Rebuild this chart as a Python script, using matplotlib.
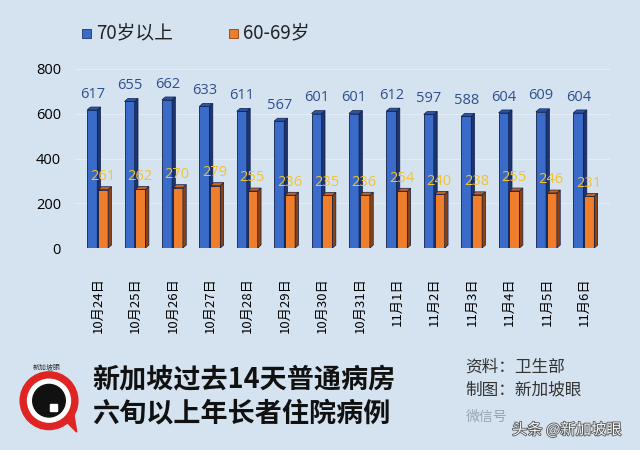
import matplotlib
matplotlib.use("Agg")
import matplotlib.pyplot as plt
import matplotlib.patches as mpatches
import matplotlib.patheffects as pe
import numpy as np

plt.rcParams['font.family'] = ['Noto Sans CJK SC', 'DejaVu Sans']

dates = ["10月24日", "10月25日", "10月26日", "10月27日", "10月28日", "10月29日", "10月30日",
         "10月31日", "11月1日", "11月2日", "11月3日", "11月4日", "11月5日", "11月6日"]
over70 = [617, 655, 662, 633, 611, 567, 601, 601, 612, 597, 588, 604, 609, 604]
age60_69 = [261, 262, 270, 279, 255, 236, 235, 236, 254, 240, 238, 255, 246, 231]

bg = '#d5e3f1'
blue, blue_dark, blue_top = '#3a6bc9', '#1c3570', '#2b55a8'
orange, orange_dark, orange_top = '#ee7d2c', '#8a4212', '#c9621c'

W, H = 640, 450
fig = plt.figure(figsize=(W / 100, H / 100), dpi=100, facecolor=bg)

ax = fig.add_axes([75 / W, 1 - 248 / H, (610 - 75) / W, (248 - 69) / H])
ax.set_facecolor(bg)

x = np.arange(len(dates))
bw = 0.27
dx, dy = 0.09, 13


def bar3d(xs, vals, color, dark, top):
    ax.bar(xs, vals, width=bw, align='edge', color=color, edgecolor='#10204a',
           linewidth=0.6, zorder=3)
    for xi, v in zip(xs, vals):
        ax.fill([xi + bw, xi + bw + dx, xi + bw + dx, xi + bw],
                [0, dy, v + dy, v], color=dark, edgecolor='#10204a',
                linewidth=0.5, zorder=3)
        ax.fill([xi, xi + dx, xi + bw + dx, xi + bw],
                [v, v + dy, v + dy, v], color=top, edgecolor='#10204a',
                linewidth=0.5, zorder=3)


bar3d(x - 0.29, over70, blue, blue_dark, blue_top)
bar3d(x + 0.0, age60_69, orange, orange_dark, orange_top)

for xi, v in zip(x, over70):
    ax.annotate(str(v), (xi - 0.15, v), xytext=(0, 6), textcoords='offset points',
                ha='center', va='bottom', fontsize=10.5, color='#2f4f8c',
                family=['Open Sans', 'DejaVu Sans'], zorder=5)
for xi, v in zip(x, age60_69):
    ax.annotate(str(v), (xi + 0.12, v), xytext=(0, 4), textcoords='offset points',
                ha='center', va='bottom', fontsize=10.5, color='#f2c230',
                family=['Open Sans', 'DejaVu Sans'], zorder=5)

ax.set_xlim(-0.615, 13.69)
ax.set_ylim(0, 800)
ax.set_yticks([0, 200, 400, 600, 800])
ax.set_yticklabels(['0', '200', '400', '600', '800'], fontsize=10.5,
                   family=['Open Sans', 'DejaVu Sans'])
ax.set_xticks(x)
ax.set_xticklabels(dates, rotation=90, fontsize=9.5, va='top', ha='center')
ax.tick_params(length=0)
ax.tick_params(axis='x', pad=21)
ax.tick_params(axis='y', pad=10)
ax.yaxis.grid(True, color='#e4edf7', linewidth=0.8, zorder=0)
ax.set_axisbelow(True)
for s in ax.spines.values():
    s.set_visible(False)

# legend
fig.patches.append(mpatches.Rectangle((82 / W, 1 - 38 / H), 9 / W, 9 / H,
                                      transform=fig.transFigure, facecolor=blue,
                                      edgecolor='#1c3570', linewidth=0.6))
fig.text(96 / W, 1 - 33 / H, "70岁以上", fontsize=13.5, va='center', color='#222222')
fig.patches.append(mpatches.Rectangle((229 / W, 1 - 38 / H), 9 / W, 9 / H,
                                      transform=fig.transFigure, facecolor=orange,
                                      edgecolor='#8a4212', linewidth=0.6))
fig.text(243 / W, 1 - 33 / H, "60-69岁", fontsize=13.5, va='center', color='#222222')

# logo
lax = fig.add_axes([12 / W, 1 - 434 / H, 74 / W, 74 / H])
lax.set_xlim(-1, 1)
lax.set_ylim(-1, 1)
lax.set_aspect('equal')
lax.axis('off')
lax.add_patch(mpatches.Polygon([[0.35, -0.55], [0.75, -0.95], [0.65, -0.35]],
                               color='#e02424'))
lax.add_patch(mpatches.Circle((0, -0.1), 0.78, color='#e02424'))
lax.add_patch(mpatches.Circle((0, -0.1), 0.58, color='white'))
lax.add_patch(mpatches.Circle((0, -0.1), 0.44, color='#111111'))
lax.add_patch(mpatches.Rectangle((0.02, -0.38), 0.2, 0.18, color='white'))
lax.text(-0.05, 0.82, "新加坡眼", fontsize=5, ha='center', va='center', color='#333333')

fig.text(92 / W, 1 - 380 / H, "新加坡过去14天普通病房", fontsize=19.5, fontweight='bold',
         va='center', color='#111111')
fig.text(92 / W, 1 - 413 / H, "六旬以上年长者住院病例", fontsize=19.5, fontweight='bold',
         va='center', color='#111111')

fig.text(465 / W, 1 - 367 / H, "资料：卫生部", fontsize=12, va='center', color='#333333')
fig.text(465 / W, 1 - 390 / H, "制图：新加坡眼", fontsize=12, va='center', color='#333333')

fig.text(466 / W, 1 - 417 / H, "微信号", fontsize=10, va='center', color='#9aa4ae')
fig.text(512 / W, 1 - 430 / H, "头条 @新加坡眼", fontsize=11, va='center', color='#f4f6f8',
         path_effects=[pe.withStroke(linewidth=1.2, foreground='#555555')])

fig.savefig("out.png", dpi=100, facecolor=bg)
